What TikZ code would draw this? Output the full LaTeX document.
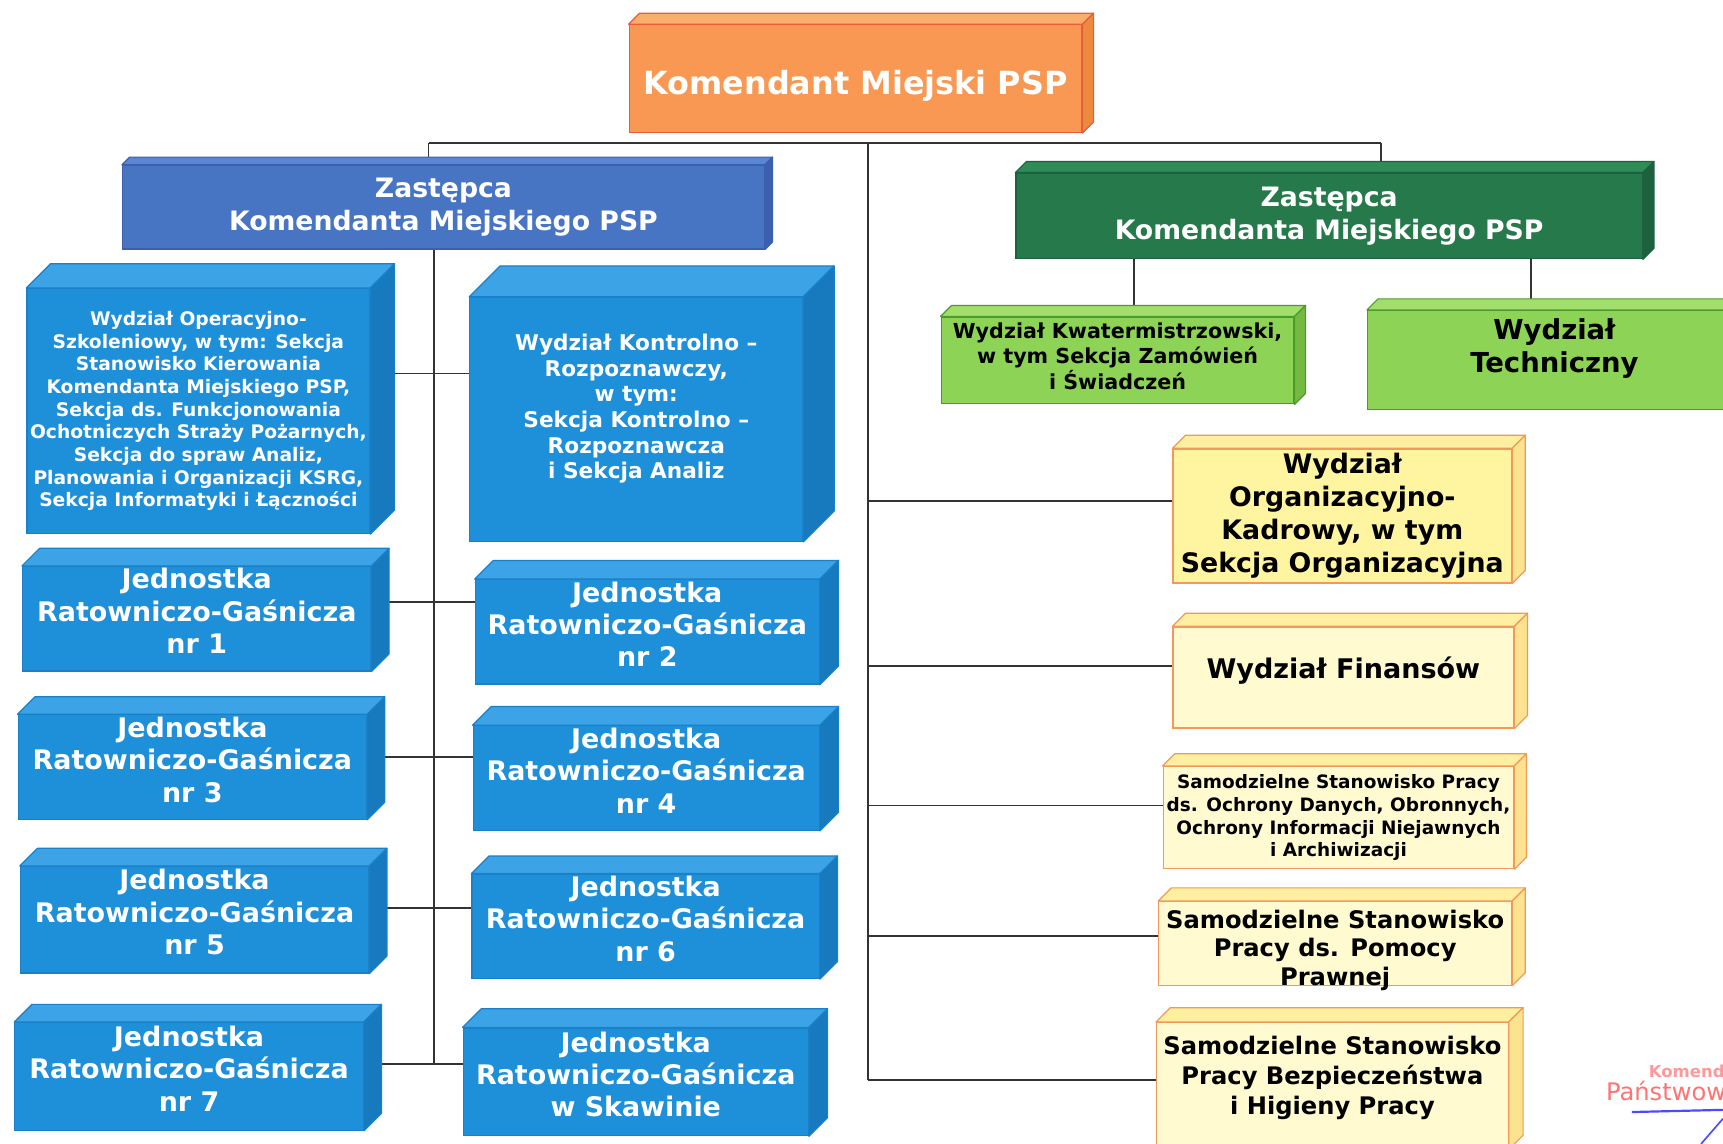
\documentclass[tikz,border=0pt]{standalone}
\usepackage{fontspec}
\setmainfont{DejaVu Sans}
\definecolor{ofront}{HTML}{F89852}
\definecolor{otop}{HTML}{F9AE6C}
\definecolor{oside}{HTML}{EE8A40}
\definecolor{obord}{HTML}{E85E3A}
\definecolor{zbfront}{HTML}{4874C4}
\definecolor{zbtop}{HTML}{5B86D6}
\definecolor{zbside}{HTML}{3A60AE}
\definecolor{lbfront}{HTML}{1E90DA}
\definecolor{lbtop}{HTML}{3BA3E6}
\definecolor{lbside}{HTML}{1779BE}
\definecolor{lbbord}{HTML}{1A80C8}
\definecolor{dgfront}{HTML}{26794A}
\definecolor{dgtop}{HTML}{2F8C57}
\definecolor{dgside}{HTML}{1C623E}
\definecolor{lgfront}{HTML}{8DD355}
\definecolor{lgtop}{HTML}{A2DE6C}
\definecolor{lgside}{HTML}{74B942}
\definecolor{lgbord}{HTML}{4E9A2E}
\definecolor{yfront}{HTML}{FFF4A0}
\definecolor{ylight}{HTML}{FFFAD0}
\definecolor{ytop}{HTML}{FFEFA0}
\definecolor{yside}{HTML}{FBE390}
\definecolor{ybord}{HTML}{F2985A}
\definecolor{linec}{HTML}{333333}
\newcommand\fsz[2]{\fontsize{#1}{#2}\selectfont\bfseries}
% faces: name, depth, top colour, side colour, border colour
\newcommand\faces[5]{%
  \filldraw[fill=#3,draw=#5,line width=1.1pt,line join=round]
    (#1.north west) -- ++(#2,-#2) -- ([shift={(#2,-#2)}]#1.north east) -- (#1.north east) -- cycle;
  \filldraw[fill=#4,draw=#5,line width=1.1pt,line join=round]
    (#1.north east) -- ++(#2,-#2) -- ([shift={(#2,-#2)}]#1.south east) -- (#1.south east) -- cycle;}
\begin{document}
\begin{tikzpicture}[x=1pt,y=-1pt,
  front/.style={draw, line width=1.1pt, inner sep=0pt, align=center, anchor=north west},
  obox/.style={front, fill=ofront, draw=obord, text=white},
  zbbox/.style={front, fill=zbfront, draw=zbside, text=white},
  lbbox/.style={front, fill=lbfront, draw=lbbord, text=white},
  dgbox/.style={front, fill=dgfront, draw=dgside, text=white},
  lgbox/.style={front, fill=lgfront, draw=lgbord, text=black},
  ybox/.style={front, fill=yfront, draw=ybord, text=black},
  boxtext/.style={inner sep=0pt, align=center},
  jrg/.style={lbbox, font=\fsz{24.5}{29.5}},
  conn/.style={draw=linec, line width=1.6pt}]
\useasboundingbox (0,0) rectangle (1568,1041);
\fill[white] (0,0) rectangle (1568,1041);

% ---------- nodes ----------
\node[obox, minimum width=412pt, minimum height=98pt] (kom) at (572,22) {};
\node[zbbox, minimum width=584pt, minimum height=76pt, font=\fsz{24.3}{30}] (z1) at (111,150) {Zastępca\\Komendanta Miejskiego PSP};
\node[dgbox, minimum width=570pt, minimum height=78pt, font=\fsz{24.3}{30}] (z2) at (924,157) {Zastępca\\Komendanta Miejskiego PSP};

\node[lbbox, minimum width=312pt, minimum height=223pt, font=\fsz{17}{20.6}] (op) at (24,262)
  {Wydział Operacyjno-\\Szkoleniowy, w tym: Sekcja\\Stanowisko Kierowania\\Komendanta Miejskiego PSP,\\Sekcja ds. Funkcjonowania\\Ochotniczych Straży Pożarnych,\\Sekcja do spraw Analiz,\\Planowania i Organizacji KSRG,\\Sekcja Informatyki i Łączności};
\node[lbbox, minimum width=303pt, minimum height=222pt, font=\fsz{19.7}{23.3}] (ko) at (427,270)
  {Wydział Kontrolno –\\Rozpoznawczy,\\w tym:\\Sekcja Kontrolno –\\Rozpoznawcza\\i Sekcja Analiz\\[0pt]};

\node[jrg, minimum width=317pt, minimum height=95pt] (j1) at (20,515) {Jednostka\\Ratowniczo-Gaśnicza\\nr 1\\[-15.5pt]};
\node[jrg, minimum width=313pt, minimum height=95pt] (j2) at (432,527) {Jednostka\\Ratowniczo-Gaśnicza\\nr 2\\[-15.5pt]};
\node[jrg, minimum width=317pt, minimum height=95pt] (j3) at (16,650) {Jednostka\\Ratowniczo-Gaśnicza\\nr 3\\[-15.5pt]};
\node[jrg, minimum width=315pt, minimum height=95pt] (j4) at (430,660) {Jednostka\\Ratowniczo-Gaśnicza\\nr 4\\[-15.5pt]};
\node[jrg, minimum width=317pt, minimum height=97pt] (j5) at (18,788) {Jednostka\\Ratowniczo-Gaśnicza\\nr 5\\[-15.5pt]};
\node[jrg, minimum width=316pt, minimum height=95pt] (j6) at (429,795) {Jednostka\\Ratowniczo-Gaśnicza\\nr 6\\[-15.5pt]};
\node[jrg, minimum width=317pt, minimum height=98pt] (j7) at (13,930) {Jednostka\\Ratowniczo-Gaśnicza\\nr 7\\[-15.5pt]};
\node[jrg, minimum width=314pt, minimum height=98pt] (js) at (421,935) {Jednostka\\Ratowniczo-Gaśnicza\\w Skawinie\\[-15.5pt]};

\node[lgbox, minimum width=321pt, minimum height=79pt, font=\fsz{18.8}{23.5}] (kw) at (856,288) {Wydział Kwatermistrzowski,\\w tym Sekcja Zamówień\\i Świadczeń\\[-15.5pt]};
\node[lgbox, minimum width=340pt, minimum height=90pt, font=\fsz{25}{30}] (te) at (1244,282) {Wydział\\Techniczny\\[-4pt]};

\node[ybox, minimum width=308pt, minimum height=122pt, font=\fsz{24.4}{30}] (org) at (1067,408) {Wydział\\Organizacyjno-\\Kadrowy, w tym\\Sekcja Organizacyjna};
\node[ybox, fill=ylight, minimum width=310pt, minimum height=92pt, font=\fsz{24.6}{30}] (fin) at (1067,570) {Wydział Finansów\\[-12pt]};
\node[ybox, fill=ylight, minimum width=319pt, minimum height=93pt, font=\fsz{16.8}{20.7}] (och) at (1058,697) {Samodzielne Stanowisko Pracy\\ds. Ochrony Danych, Obronnych,\\Ochrony Informacji Niejawnych\\i Archiwizacji};
\node[ybox, fill=ylight, minimum width=321pt, minimum height=76pt] (pr) at (1054,820) {};
\node[ybox, fill=ylight, minimum width=320pt, minimum height=115pt, font=\fsz{22}{27}] (bhp) at (1052,930) {Samodzielne Stanowisko\\Pracy Bezpieczeństwa\\i Higieny Pracy\\[-8pt]};

% ---------- connector coordinates ----------
\coordinate (busL) at (390,130);
\coordinate (busC) at (790,130);
\coordinate (busR) at (1257,130);
\coordinate (lend) at (395,968);
\coordinate (rend) at (790,983);
\coordinate (r1) at (395,340);
\coordinate (r2) at (395,548);
\coordinate (r3) at (395,689);
\coordinate (r4) at (395,826);
\coordinate (r5) at (395,968);
\coordinate (q1) at (790,456);
\coordinate (q2) at (790,606);
\coordinate (q3) at (790,733);
\coordinate (q4) at (790,852);
\coordinate (q5) at (790,983);
\coordinate (g1) at (1032,0);
\coordinate (g2) at (1393,0);

% ---------- connectors (drawn beneath the 3D faces) ----------
\draw[conn] (busL) -- (busR);
\draw[conn] (busL) -- (busL |- z1.north);
\draw[conn] (busR) -- (busR |- z2.north);
\draw[conn] (busC) -- (rend);
\draw[conn] (lend |- z1.south) -- (lend);
\draw[conn] (r1 -| op.east) -- (r1 -| ko.west);
\draw[conn] (r2 -| j1.east) -- (r2 -| j2.west);
\draw[conn] (r3 -| j3.east) -- (r3 -| j4.west);
\draw[conn] (r4 -| j5.east) -- (r4 -| j6.west);
\draw[conn] (r5 -| j7.east) -- (r5 -| js.west);
\draw[conn] (q1) -- (q1 -| org.west);
\draw[conn] (q2) -- (q2 -| fin.west);
\draw[conn] (q3) -- (q3 -| och.west);
\draw[conn] (q4) -- (q4 -| pr.west);
\draw[conn] (q5) -- (q5 -| bhp.west);
\draw[conn] (g1 |- z2.south) -- (g1 |- kw.north);
\draw[conn] (g2 |- z2.south) -- (g2 |- te.north);

% ---------- 3D faces ----------
\faces{kom}{10}{otop}{oside}{obord}
\faces{z1}{7}{zbtop}{zbside}{zbside}
\faces{z2}{10}{dgtop}{dgside}{dgside}
\faces{op}{22}{lbtop}{lbside}{lbbord}
\faces{ko}{28}{lbtop}{lbside}{lbbord}
\faces{j1}{16}{lbtop}{lbside}{lbbord}
\faces{j2}{17}{lbtop}{lbside}{lbbord}
\faces{j3}{16}{lbtop}{lbside}{lbbord}
\faces{j4}{17}{lbtop}{lbside}{lbbord}
\faces{j5}{16}{lbtop}{lbside}{lbbord}
\faces{j6}{16}{lbtop}{lbside}{lbbord}
\faces{j7}{16}{lbtop}{lbside}{lbbord}
\faces{js}{17}{lbtop}{lbside}{lbbord}
\faces{kw}{10}{lgtop}{lgside}{lgbord}
\faces{te}{10}{lgtop}{lgside}{lgbord}
\faces{org}{12}{ytop}{yside}{ybord}
\faces{fin}{12}{ytop}{yside}{ybord}
\faces{och}{11}{ytop}{yside}{ybord}
\faces{pr}{12}{ytop}{yside}{ybord}
\faces{bhp}{13}{ytop}{yside}{ybord}

% ---------- texts placed on boxes ----------
\node[boxtext, text=white, font=\fsz{29}{32}] (komt) at ([yshift=-7pt]kom.center) {Komendant Miejski PSP};
\node[boxtext, text=black, font=\fsz{22}{26}] (prt) at ([yshift=-6pt]pr.center) {Samodzielne Stanowisko\\Pracy ds. Pomocy\\Prawnej};

% ---------- stamp fragment ----------
\node[anchor=west, text=red!40, font=\fsz{15}{15}] (st1) at (1497,975) {Komend};
\node[anchor=west, text=red!55, font=\fontsize{22}{22}\selectfont] (st2) at (1458,995) {Państwowej};
\draw[blue!70, line width=2pt] (1485,1012) -- (1568,1010);
\draw[blue!70, line width=1.5pt] (1548,1041) -- (1568,1018);
\end{tikzpicture}
\end{document}
